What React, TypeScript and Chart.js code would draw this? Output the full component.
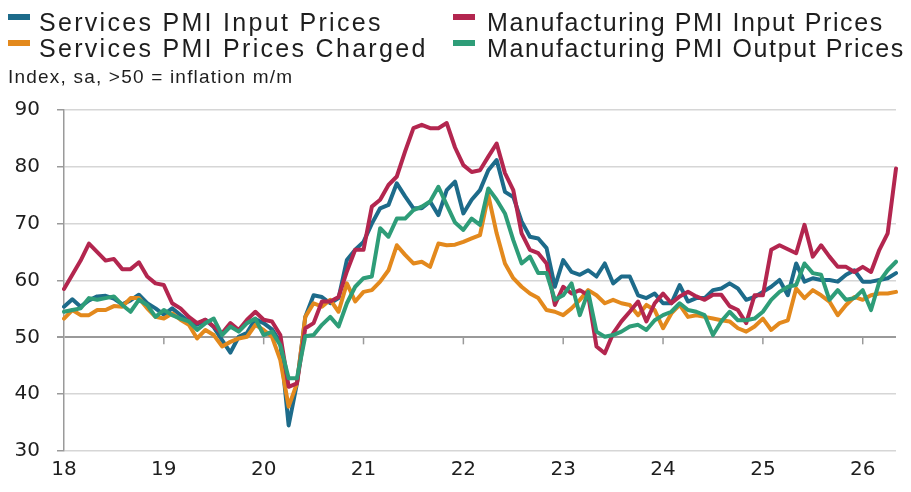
import React, { useEffect, useRef } from 'react';
import { Chart, registerables } from 'chart.js';
Chart.register(...registerables);

const yearLabels = ['18', '19', '20', '21', '22', '23', '24', '25', '26'];
const monthsInLastYear = 5;
const categories: string[] = [];
yearLabels.forEach((y, yi) => {
  const n = yi === yearLabels.length - 1 ? monthsInLastYear : 12;
  for (let m = 1; m <= n; m++) categories.push(`20${y}-${String(m).padStart(2, '0')}`);
});

const yMin = 30;
const yMax = 90;
const yStep = 10;
const zeroInflationLine = 50;

const seriesNames = [
  'Services PMI Input Prices',
  'Manufacturing PMI Input Prices',
  'Services PMI Prices Charged',
  'Manufacturing PMI Output Prices',
];
const seriesColors = ['#1d6b8a', '#b3264f', '#e3891d', '#2e9d78'];

const servicesInput = [
  55.4, 56.7, 55.4, 56.5, 57.2, 57.3, 56.8, 55.8, 56.5, 57.5, 56, 55.1,
  54, 55.1, 53.9, 52.8, 52.2, 53.1, 51.8, 49.5, 47.3, 50.1, 50.8, 53.2,
  52.5, 51.4, 49.1, 34.5, 41.9, 53.6, 57.4, 57.1, 56, 56.9, 63.6, 65.4,
  66.8, 70, 72.7, 73.3, 77.1, 74.8, 72.7, 72.7, 73.9, 71.5, 75.9, 77.4,
  71.8, 74.2, 75.9, 79.4, 81.2, 75.6, 74.7, 70.4, 67.7, 67.4, 65.7, 58.9,
  63.6, 61.5, 61, 61.8, 60.7, 63, 59.5, 60.7, 60.7, 57.4, 56.9, 57.7,
  56, 56, 59.2, 56.3, 56.9, 56.9, 58.3, 58.6, 59.5, 58.6, 56.6, 57.1,
  58, 58.9, 60.1, 57.4, 63, 59.8, 60.4, 60.1, 60.1, 59.8, 61, 61.8,
  59.8, 59.8, 60.1, 60.4, 61.3,
];

const manufacturingInput = [
  58.5, 61, 63.5, 66.5, 65, 63.5, 63.8, 62, 62, 63.2, 60.7, 59.5,
  59.2, 56, 55.1, 53.6, 52.5, 53.1, 51.9, 50.7, 52.5, 51.3, 53.1, 54.5,
  53.1, 52.8, 50.4, 41.3, 41.9, 51.6, 52.5, 56.3, 56.3, 57.1, 61.6, 65.4,
  65.4, 73, 74.2, 76.8, 78.3, 82.7, 86.8, 87.4, 86.8, 86.8, 87.7, 83.4,
  80.3, 79.1, 79.4, 81.8, 84.1, 78.9, 75.9, 68.3, 65.4, 64.8, 63, 55.7,
  58.9, 57.7, 58.3, 57.4, 48.4, 47.2, 50.7, 52.8, 54.5, 56.3, 52.8, 56,
  57.7, 56, 57.2, 58, 57.2, 56.6, 57.5, 57.5, 55.5, 54.8, 52.5, 57.4,
  57.4, 65.4, 66.2, 65.5, 64.8, 69.8, 64.2, 66.2, 64.2, 62.4, 62.4, 61.5,
  62.4, 61.5, 65.4, 68.3, 79.7,
];

const servicesCharged = [
  53.3, 54.8, 53.9, 53.9, 54.8, 54.8, 55.5, 55.4, 56.9, 56.9, 55.1, 53.6,
  53.3, 54.2, 53.1, 52.2, 49.8, 51.3, 50.4, 48.4, 49.2, 49.8, 50.1, 52.2,
  51.3, 50.1, 46, 37.8, 41.9, 53.6, 56, 55.4, 56.6, 54.5, 59.5, 56.3,
  58, 58.3, 59.8, 61.8, 66.2, 64.5, 63, 63.3, 62.4, 66.5, 66.2, 66.3,
  66.8, 67.4, 68, 75, 68.3, 63, 60.4, 58.9, 57.7, 56.9, 54.8, 54.5,
  53.9, 55.1, 56.6, 58.3, 57.4, 56, 56.6, 56, 55.7, 53.9, 55.7, 54.8,
  51.6, 54.2, 55.7, 53.6, 53.9, 53.6, 53.3, 53, 52.8, 51.6, 51, 51.9,
  53.3, 51.3, 52.5, 53, 58.6, 56.9, 58.3, 57.4, 56.3, 53.9, 55.7, 57.1,
  56.6, 57.4, 57.7, 57.7, 58,
];

const manufacturingOutput = [
  54.5, 54.8, 55.1, 56.9, 56.6, 56.9, 57.2, 55.7, 54.5, 56.6, 55.7, 53.6,
  54.8, 53.9, 53.3, 52.8, 51.3, 52.5, 53.3, 50.4, 51.9, 51, 52.5, 53.3,
  50.4, 51, 48.6, 42.8, 42.8, 50.2, 50.4, 52.2, 53.6, 51.9, 56, 58.9,
  60.4, 60.7, 69.2, 67.7, 70.9, 70.9, 72.4, 73, 73.9, 76.5, 73.3, 70.2,
  68.9, 70.9, 69.8, 76.2, 74.2, 71.8, 67.1, 63, 64.2, 61.3, 61.3, 56.6,
  57.4, 59.5, 53.9, 58, 51, 50.1, 50.4, 51, 51.9, 52.2, 51.3, 53,
  53.9, 54.5, 56, 54.8, 54.5, 53.9, 50.4, 52.8, 54.5, 53, 53, 53.3,
  54.5, 56.6, 58, 58.9, 59.2, 63, 61.3, 61, 56.6, 58.3, 56.6, 56.9,
  58.3, 54.8, 59.8, 61.8, 63.3,
];

const seriesData = [servicesInput, manufacturingInput, servicesCharged, manufacturingOutput];
const drawOrder = [3, 1, 2, 0];

const AXIS_GRAY = '#9a9a9a';
const GRID_GRAY = '#d6d6d6';
const TEXT = '#1e1e1e';
const TICK_FONT = "'DejaVu Sans', 'Liberation Sans', Arial, sans-serif";

const yearTickPlugin = {
  id: 'yearTicksAt50',
  beforeDatasetsDraw(chart: any) {
    const x = chart.scales.x;
    const y = chart.scales.y;
    const ctx = chart.ctx;
    const yp = y.getPixelForValue(zeroInflationLine);
    ctx.save();
    ctx.strokeStyle = AXIS_GRAY;
    ctx.lineWidth = 1.5;
    categories.forEach((c, i) => {
      if (i % 12 !== 0 || i === 0) return;
      const xp = x.getPixelForValue(i);
      ctx.beginPath();
      ctx.moveTo(xp, yp);
      ctx.lineTo(xp, yp + 7);
      ctx.stroke();
    });
    ctx.restore();
  },
};

function LineChart() {
  const ref = useRef<HTMLCanvasElement | null>(null);
  useEffect(() => {
    if (!ref.current) return;
    const chart = new Chart(ref.current, {
      type: 'line',
      data: {
        labels: categories,
        datasets: seriesNames.map((name, k) => ({
          label: name,
          data: seriesData[k],
          borderColor: seriesColors[k],
          backgroundColor: seriesColors[k],
          borderWidth: 4,
          pointRadius: 0,
          tension: 0,
          borderJoinStyle: 'round' as const,
          borderCapStyle: 'round' as const,
          order: drawOrder[k],
          fill: false,
        })),
      },
      options: {
        animation: false,
        responsive: true,
        maintainAspectRatio: false,
        layout: { padding: { top: 102, right: 5, bottom: 2, left: 0 } },
        plugins: { legend: { display: false }, tooltip: { enabled: false } },
        scales: {
          x: {
            type: 'category',
            offset: false,
            afterFit: (s: any) => {
              s.height = 31;
            },
            border: { display: false },
            grid: { display: false, drawTicks: false, tickLength: 0 },
            ticks: {
              autoSkip: false,
              maxRotation: 0,
              minRotation: 0,
              padding: 7,
              color: TEXT,
              font: { family: TICK_FONT, size: 20 },
              callback: (_v: any, i: number) => (i % 12 === 0 ? yearLabels[i / 12] : ''),
            },
          },
          y: {
            min: yMin,
            max: yMax,
            afterFit: (s: any) => {
              s.width = 56;
            },
            border: { display: true, color: AXIS_GRAY, width: 1.5 },
            grid: {
              color: (c: any) => (c.tick && c.tick.value === zeroInflationLine ? AXIS_GRAY : GRID_GRAY),
              lineWidth: (c: any) => (c.tick && c.tick.value === zeroInflationLine ? 2 : 1.5),
              tickColor: AXIS_GRAY,
              tickLength: 7,
              drawTicks: true,
            },
            ticks: {
              stepSize: yStep,
              padding: 17,
              color: TEXT,
              font: { family: TICK_FONT, size: 20 },
            },
          },
        },
      },
      plugins: [yearTickPlugin],
    });
    return () => chart.destroy();
  }, []);
  return <canvas ref={ref} />;
}

const legendFont = "'Liberation Sans', Arial, sans-serif";

function LegendItem({ k, left, top }: { k: number; left: number; top: number }) {
  const leftColumn = k % 2 === 0;
  return (
    <div style={{ position: 'absolute', left, top, height: 30 }}>
      <div
        style={{
          position: 'absolute',
          left: 0,
          top: 4,
          width: 22,
          height: 6,
          background: seriesColors[k],
        }}
      />
      <div
        style={{
          position: 'absolute',
          left: leftColumn ? 31 : 34,
          top: 0,
          whiteSpace: 'nowrap',
          fontFamily: legendFont,
          fontSize: 25,
          lineHeight: '25px',
          letterSpacing: leftColumn ? '2.3px' : '1.6px',
          color: TEXT,
        }}
      >
        {seriesNames[k]}
      </div>
    </div>
  );
}

export default function App() {
  return (
    <div style={{ position: 'relative', width: 895, height: 476, fontFamily: legendFont }}>
      <div style={{ position: 'absolute', inset: 0 }}>
        <LineChart />
      </div>
      <LegendItem k={0} left={0} top={1.5} />
      <LegendItem k={1} left={445} top={1.5} />
      <LegendItem k={2} left={0} top={27.8} />
      <LegendItem k={3} left={445} top={27.8} />
      <div
        style={{
          position: 'absolute',
          left: 0,
          top: 58.9,
          fontSize: 19,
          lineHeight: '19px',
          letterSpacing: '1.2px',
          color: TEXT,
          whiteSpace: 'nowrap',
        }}
      >
        Index, sa, &gt;50 = inflation m/m
      </div>
    </div>
  );
}
